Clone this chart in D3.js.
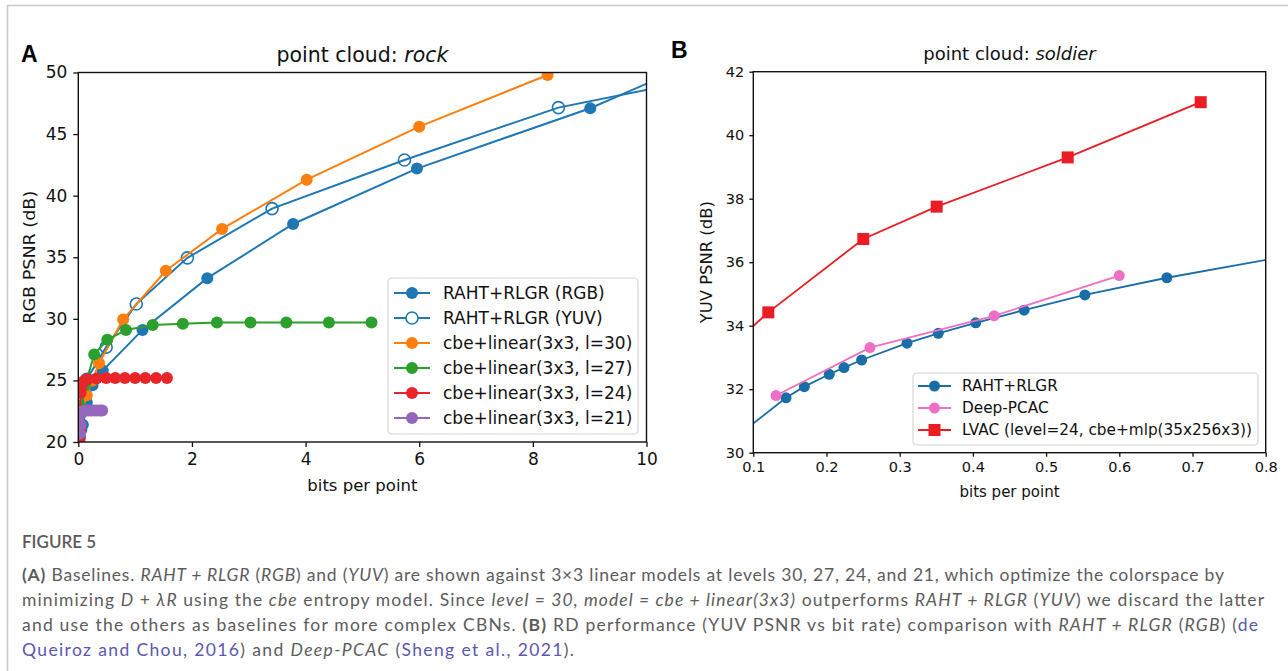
<!DOCTYPE html>
<html>
<head>
<meta charset="utf-8">
<script src="https://cdn.jsdelivr.net/npm/d3@7"></script>
<style>
  body { margin: 0; background: #fff; }
  svg { display: block; }
</style>
</head>
<body>
<svg id="fig" width="1288" height="671"></svg>
<script>
// ---------- Panel A: point cloud "rock" (bits per point vs RGB PSNR) ----------
const rockTicksX = [0, 2, 4, 6, 8, 10];
const rockTicksY = [20, 25, 30, 35, 40, 45, 50];
const rockLabels = ["RAHT+RLGR (RGB)", "RAHT+RLGR (YUV)", "cbe+linear(3x3, l=30)",
                    "cbe+linear(3x3, l=27)", "cbe+linear(3x3, l=24)", "cbe+linear(3x3, l=21)"];
const rockColors = ["#1f77b4", "#1f77b4", "#ff7f0e", "#2ca02c", "#e8262a", "#9467bd"];
const rahtRGB = [[0.03, 20.4], [0.08, 21.4], [0.15, 23.2], [0.25, 24.6], [0.43, 25.8], [1.13, 29.1],
                 [2.27, 33.3], [3.78, 37.7], [5.96, 42.2], [9.01, 47.1], [10.9, 50.9]];
const rahtYUV = [[0.04, 21.0], [0.09, 23.0], [0.15, 25.1], [0.49, 27.7], [1.02, 31.2], [1.92, 34.95],
                 [3.41, 38.95], [5.74, 42.9], [8.45, 47.15], [11.3, 49.8]];
const lin30 = [[0.03, 21.0], [0.08, 22.6], [0.15, 23.8], [0.25, 25.0], [0.365, 26.4], [0.79, 29.95],
               [1.54, 33.9], [2.53, 37.3], [4.02, 41.3], [6.0, 45.6], [8.26, 49.8]];
const lin27 = [[0.02, 21.0], [0.06, 22.8], [0.12, 24.6], [0.28, 27.1], [0.51, 28.3], [0.84, 29.1],
               [1.31, 29.5], [1.84, 29.6], [2.44, 29.7], [3.03, 29.7], [3.66, 29.7], [4.41, 29.7], [5.16, 29.7]];
const lin24 = [[0.02, 20.2], [0.03, 21.0], [0.04, 24.0], [0.06, 24.6], [0.09, 24.9], [0.13, 25.05],
               [0.16, 25.1], [0.32, 25.15], [0.49, 25.2], [0.65, 25.2], [0.82, 25.2], [1.0, 25.2],
               [1.18, 25.2], [1.37, 25.2], [1.56, 25.2]];
const lin21 = [[0.03, 20.7], [0.04, 21.4], [0.05, 22.3], [0.08, 22.5], [0.13, 22.55], [0.18, 22.55],
               [0.23, 22.55], [0.28, 22.55], [0.33, 22.55], [0.38, 22.55], [0.42, 22.55]];

// ---------- Panel B: point cloud "soldier" (bits per point vs YUV PSNR) ----------
const soldierTicksX = [0.1, 0.2, 0.3, 0.4, 0.5, 0.6, 0.7, 0.8];
const soldierTicksY = [30, 32, 34, 36, 38, 40, 42];
const soldierLabels = ["RAHT+RLGR", "Deep-PCAC", "LVAC (level=24, cbe+mlp(35x256x3))"];
const soldierColors = ["#1a6ea8", "#ee70c4", "#ec1c24"];
const rahtSoldier = [[0.085, 30.65], [0.1447, 31.73], [0.1697, 32.08], [0.2038, 32.47], [0.2239, 32.68],
                     [0.248, 32.92], [0.310, 33.45], [0.3527, 33.76], [0.4038, 34.09], [0.470, 34.49],
                     [0.553, 34.97], [0.665, 35.51], [0.86, 36.32]];
const deepPCAC = [[0.131, 31.8], [0.2594, 33.31], [0.429, 34.31], [0.600, 35.58]];
const lvac = [[0.085, 33.68], [0.1205, 34.42], [0.2503, 36.73], [0.3505, 37.75], [0.5295, 39.30], [0.7112, 41.04]];

const svg = d3.select("#fig");
const chartFont = "DejaVu Sans, sans-serif";
const capFont = "Lato, 'Open Sans', sans-serif";

// page frame
svg.append("line").attr("x1", 7).attr("x2", 1288).attr("y1", 5.5).attr("y2", 5.5)
  .attr("stroke", "#c8c8c8").attr("stroke-width", 1.5);
svg.append("line").attr("x1", 7.5).attr("x2", 7.5).attr("y1", 5).attr("y2", 671)
  .attr("stroke", "#c8c8c8").attr("stroke-width", 1.5);

function panel(cfg) {
  const x = d3.scaleLinear().domain(cfg.xDomain).range([cfg.left, cfg.right]);
  const y = d3.scaleLinear().domain(cfg.yDomain).range([cfg.bottom, cfg.top]);
  const g = svg.append("g");
  const clipId = "clip-" + cfg.id;
  g.append("clipPath").attr("id", clipId).append("rect")
    .attr("x", cfg.left).attr("y", cfg.top)
    .attr("width", cfg.right - cfg.left).attr("height", cfg.bottom - cfg.top);

  const plot = g.append("g").attr("clip-path", `url(#${clipId})`);
  const line = d3.line().x(d => x(d[0])).y(d => y(d[1]));
  cfg.series.forEach((s, i) => {
    plot.append("path").datum(s.data).attr("d", line)
      .attr("fill", "none").attr("stroke", s.color).attr("stroke-width", cfg.lw);
    const m = plot.selectAll(null).data(s.data).enter();
    if (s.marker === "square") {
      m.append("rect")
        .attr("x", d => x(d[0]) - cfg.msize / 2).attr("y", d => y(d[1]) - cfg.msize / 2)
        .attr("width", cfg.msize).attr("height", cfg.msize)
        .attr("fill", s.color);
    } else {
      m.append("circle").attr("cx", d => x(d[0])).attr("cy", d => y(d[1])).attr("r", cfg.r)
        .attr("fill", s.open ? "none" : s.color)
        .attr("stroke", s.color).attr("stroke-width", s.open ? 1.6 : 0);
    }
  });

  // axes
  const ax = g.append("g").attr("transform", `translate(0,${cfg.bottom})`)
    .call(d3.axisBottom(x).tickValues(cfg.xTicks).tickFormat(cfg.xFmt)
      .tickSize(cfg.tick).tickPadding(cfg.pad).tickSizeOuter(0));
  const ay = g.append("g").attr("transform", `translate(${cfg.left},0)`)
    .call(d3.axisLeft(y).tickValues(cfg.yTicks).tickFormat(d3.format("d"))
      .tickSize(cfg.tick).tickPadding(cfg.pad).tickSizeOuter(0));
  [ax, ay].forEach(a => {
    a.select(".domain").remove();
    a.selectAll(".tick line").attr("stroke", "#111").attr("stroke-width", 1.3);
    a.selectAll(".tick text").attr("fill", "#111")
      .style("font-family", chartFont).style("font-size", cfg.tickFs + "px");
  });
  g.append("rect").attr("x", cfg.left).attr("y", cfg.top)
    .attr("width", cfg.right - cfg.left).attr("height", cfg.bottom - cfg.top)
    .attr("fill", "none").attr("stroke", "#111").attr("stroke-width", 1.4);

  // titles and axis labels
  const t = g.append("text").attr("x", (cfg.left + cfg.right) / 2).attr("y", cfg.titleY)
    .attr("text-anchor", "middle").attr("fill", "#111")
    .style("font-family", chartFont).style("font-size", cfg.titleFs + "px");
  t.append("tspan").text("point cloud: ");
  t.append("tspan").attr("font-style", "italic").text(cfg.cloud);
  g.append("text").attr("x", (cfg.left + cfg.right) / 2).attr("y", cfg.xLabelY)
    .attr("text-anchor", "middle").attr("fill", "#111")
    .style("font-family", chartFont).style("font-size", cfg.labelFs + "px").text("bits per point");
  g.append("text").attr("transform", `translate(${cfg.yLabelX},${(cfg.top + cfg.bottom) / 2}) rotate(-90)`)
    .attr("text-anchor", "middle").attr("fill", "#111")
    .attr("textLength", cfg.yLabelLen).attr("lengthAdjust", "spacingAndGlyphs")
    .style("font-family", chartFont).style("font-size", cfg.labelFs + "px").text(cfg.yLabel);
  g.append("text").attr("x", cfg.letterX).attr("y", cfg.letterY).attr("fill", "#000")
    .style("font-family", "Liberation Sans, Arial, sans-serif").style("font-weight", "bold")
    .style("font-size", "23px").text(cfg.letter);

  // legend
  const L = cfg.legend;
  g.append("rect").attr("x", L.x).attr("y", L.y).attr("width", L.w).attr("height", L.h)
    .attr("rx", 4).attr("fill", "#fff").attr("fill-opacity", 0.85)
    .attr("stroke", "#d4d4d4").attr("stroke-width", 1.2);
  cfg.series.forEach((s, i) => {
    const yy = L.y + L.first + i * L.step;
    g.append("line").attr("x1", L.x + L.lx0).attr("x2", L.x + L.lx1).attr("y1", yy).attr("y2", yy)
      .attr("stroke", s.color).attr("stroke-width", cfg.lw);
    const mx = L.x + (L.lx0 + L.lx1) / 2;
    if (s.marker === "square") {
      g.append("rect").attr("x", mx - cfg.msize / 2).attr("y", yy - cfg.msize / 2)
        .attr("width", cfg.msize).attr("height", cfg.msize).attr("fill", s.color);
    } else {
      g.append("circle").attr("cx", mx).attr("cy", yy).attr("r", cfg.r)
        .attr("fill", s.open ? "#fff" : s.color)
        .attr("stroke", s.color).attr("stroke-width", s.open ? 1.6 : 0);
    }
    g.append("text").attr("x", L.x + L.tx).attr("y", yy).attr("dy", "0.35em").attr("fill", "#111")
      .style("font-family", chartFont).style("font-size", L.fs + "px").text(s.label);
  });
}

panel({
  id: "rock", letter: "A", letterX: 21, letterY: 62, cloud: "rock",
  xDomain: [0, 10], yDomain: [20, 50], left: 78.3, right: 646.5, top: 72.5, bottom: 442,
  xTicks: rockTicksX, yTicks: rockTicksY, xFmt: d3.format("d"),
  tick: 5, pad: 6, tickFs: 17, titleFs: 20.5, labelFs: 16.5, titleY: 62, xLabelY: 491, yLabelX: 35,
  yLabel: "RGB PSNR (dB)", yLabelLen: 133, lw: 2, r: 6, msize: 12,
  series: [rahtRGB, rahtYUV, lin30, lin27, lin24, lin21].map((d, i) => ({
    data: d, color: rockColors[i], label: rockLabels[i], open: i === 1
  })),
  legend: { x: 388, y: 278, w: 250, h: 156, first: 15, step: 25, lx0: 6, lx1: 42, tx: 55, fs: 17 }
});

panel({
  id: "soldier", letter: "B", letterX: 671, letterY: 58, cloud: "soldier",
  xDomain: [0.1, 0.8], yDomain: [30, 42], left: 753.3, right: 1265.7, top: 71.7, bottom: 452.7,
  xTicks: soldierTicksX, yTicks: soldierTicksY, xFmt: d3.format(".1f"),
  tick: 4, pad: 5, tickFs: 14.5, titleFs: 18, labelFs: 15, titleY: 60, xLabelY: 497, yLabelX: 712,
  yLabel: "YUV PSNR (dB)", yLabelLen: 122, lw: 1.8, r: 5.5, msize: 12,
  series: [rahtSoldier, deepPCAC, lvac].map((d, i) => ({
    data: d, color: soldierColors[i], label: soldierLabels[i], marker: i === 2 ? "square" : "circle"
  })),
  legend: { x: 913, y: 373, w: 345, h: 72, first: 13, step: 22, lx0: 5, lx1: 38, tx: 49, fs: 15.3 }
});

// ---------- caption ----------
svg.append("text").attr("x", 22).attr("y", 548).attr("fill", "#5a5a5a")
  .style("font-family", capFont).style("font-size", "17px").style("font-weight", 600)
  .text("FIGURE 5");

const capLines = [
  { y: 581, w: 1202, parts: [["(A)", "b"], [" Baselines. "], ["RAHT + RLGR", "i"], [" ("], ["RGB", "i"], [") and ("],
    ["YUV", "i"], [") are shown against 3×3 linear models at levels 30, 27, 24, and 21, which optimize the colorspace by"]] },
  { y: 606, w: 1242, parts: [["minimizing "], ["D", "i"], [" + "], ["λR", "i"], [" using the "], ["cbe", "i"],
    [" entropy model. Since "], ["level = 30, model = cbe + linear(3x3)", "i"], [" outperforms "], ["RAHT + RLGR", "i"],
    [" ("], ["YUV", "i"], [") we discard the latter"]] },
  { y: 631, w: 1236, parts: [["and use the others as baselines for more complex CBNs. "], ["(B)", "b"],
    [" RD performance (YUV PSNR vs bit rate) comparison with "], ["RAHT + RLGR", "i"], [" ("], ["RGB", "i"], [") ("], ["de", "l"]] },
  { y: 656, w: 552, parts: [["Queiroz and Chou, 2016", "l"], [") and "], ["Deep-PCAC", "i"], [" ("], ["Sheng et al., 2021", "l"], [")."]] }
];
capLines.forEach(line => {
  const t = svg.append("text").attr("x", 22).attr("y", line.y).attr("fill", "#5c5c5c")
    .attr("textLength", line.w).attr("lengthAdjust", "spacing")
    .style("font-family", capFont).style("font-size", "17.5px");
  line.parts.forEach(([txt, st]) => {
    const sp = t.append("tspan").text(txt);
    if (st === "i") sp.attr("font-style", "italic");
    if (st === "b") sp.attr("font-weight", "bold");
    if (st === "l") sp.attr("fill", "#5b58b0");
  });
});
</script>
</body>
</html>
